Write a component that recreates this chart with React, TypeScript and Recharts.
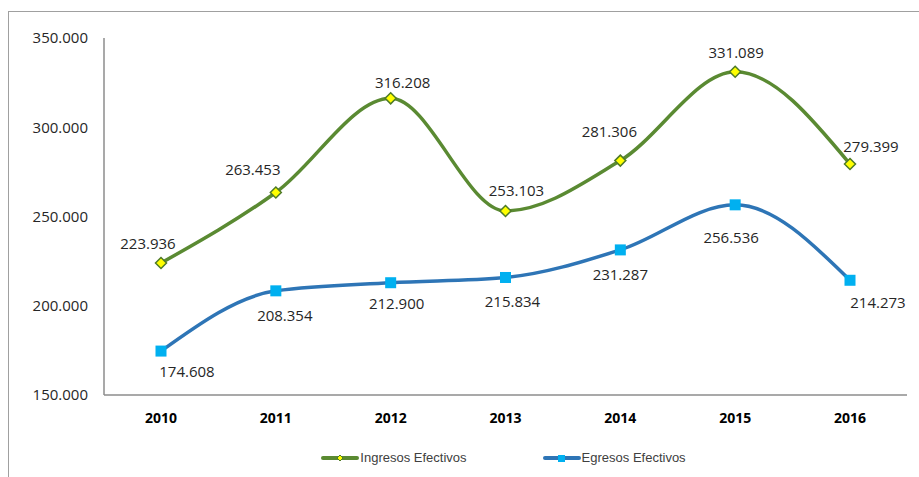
import React from 'react';
import { LineChart, Line, XAxis, YAxis, Legend, LabelList } from 'recharts';

const years = ['2010', '2011', '2012', '2013', '2014', '2015', '2016'];
const ingresos = [223936, 263453, 316208, 253103, 281306, 331089, 279399];
const egresos = [174608, 208354, 212900, 215834, 231287, 256536, 214273];
const yTicks = [150000, 200000, 250000, 300000, 350000];

// label nudges, roughly where Excel put them
const INGRESOS_DX = [-13, -23, 12, 11, -11, 1, 21];
const INGRESOS_DY = [-20, -23, -16, -21, -30, -20, -18];
const EGRESOS_DX = [26, 9, 6, 7, 0, -4, 28];
const EGRESOS_DY = [20, 24, 20, 24, 24, 32, 22];

const data = years.map((year, i) => ({ year, ingresos: ingresos[i], egresos: egresos[i] }));

const fmt = (v: number) => v.toLocaleString('de-DE');

const FONT = '"Open Sans", "Noto Sans", sans-serif';

const Diamond = (props: any) => {
  const { cx, cy } = props;
  if (cx == null || cy == null) return null;
  const r = 5.5;
  return (
    <path
      d={`M${cx},${cy - r}L${cx + r},${cy}L${cx},${cy + r}L${cx - r},${cy}Z`}
      fill="#ffff00"
      stroke="#4e7a28"
      strokeWidth={1.5}
    />
  );
};

const Square = (props: any) => {
  const { cx, cy } = props;
  if (cx == null || cy == null) return null;
  const s = 11;
  return <rect x={cx - s / 2} y={cy - s / 2} width={s} height={s} fill="#00b0f0" />;
};

const makeLabel = (dxs: number[], dys: number[]) => (props: any) => {
  const { x, y, value, index } = props;
  return (
    <text
      x={x + dxs[index]}
      y={y + dys[index]}
      textAnchor="middle"
      dominantBaseline="central"
      fontFamily={FONT}
      fontSize={15}
      fill="#262626"
    >
      {fmt(value)}
    </text>
  );
};

const LegendContent = () => (
  <div style={{ display: 'flex', justifyContent: 'center', gap: 76, fontFamily: '"Liberation Sans", Arial, sans-serif', fontSize: 13, color: '#404040', paddingLeft: 100, paddingTop: 19 }}>
    <span style={{ display: 'flex', alignItems: 'center' }}>
      <svg width={38} height={10}>
        <line x1={2} y1={5} x2={36} y2={5} stroke="#5a8a32" strokeWidth={4} strokeLinecap="round" />
        <path d="M19,2L22,5L19,8L16,5Z" fill="#ffff00" stroke="#4e7a28" strokeWidth={1} />
      </svg>
      <span style={{ marginLeft: 1 }}>Ingresos Efectivos</span>
    </span>
    <span style={{ display: 'flex', alignItems: 'center' }}>
      <svg width={38} height={10}>
        <line x1={2} y1={5} x2={36} y2={5} stroke="#2e75b6" strokeWidth={4} strokeLinecap="round" />
        <rect x={15} y={2} width={7} height={7} fill="#00b0f0" />
      </svg>
      <span style={{ marginLeft: 1 }}>Egresos Efectivos</span>
    </span>
  </div>
);

export default function App() {
  return (
    <div style={{ position: 'absolute', left: 0, top: 0, width: 919, height: 477, overflow: 'hidden', background: '#fff' }}>
      <div style={{ position: 'absolute', left: 8, top: 11, width: 1000, height: 600, borderLeft: '1px solid #a0a0a0', borderTop: '1px solid #a0a0a0' }} />
      <div style={{ position: 'absolute', left: 0, top: 0 }}>
        <LineChart width={919} height={477} data={data} margin={{ top: 38, right: 12, bottom: 10, left: 0 }}>
          <XAxis
            dataKey="year"
            padding={{ left: 57, right: 57 }}
            axisLine={{ stroke: '#8c8c8c', strokeWidth: 1.5 }}
            tickLine={false}
            tickSize={0}
            tickMargin={18}
            height={36}
            tick={{ fill: '#000', fontSize: 14, fontWeight: 700, fontFamily: FONT }}
          />
          <XAxis xAxisId="top" dataKey="year" orientation="top" height={0} tick={false} tickLine={false} axisLine={{ stroke: '#e4e4e4', strokeWidth: 1.5 }} />
          <YAxis
            domain={[150000, 350000]}
            ticks={yTicks}
            tickFormatter={fmt}
            width={104}
            axisLine={{ stroke: '#8c8c8c', strokeWidth: 1.5 }}
            tickLine={false}
            tickSize={0}
            tickMargin={16}
            tick={{ fill: '#262626', fontSize: 15, fontFamily: FONT }}
          />
          <YAxis yAxisId="right" orientation="right" width={0} tick={false} tickLine={false} axisLine={{ stroke: '#e4e4e4', strokeWidth: 1.5 }} />
          <Legend verticalAlign="bottom" height={36} content={<LegendContent />} />
          <Line
            type="monotone"
            dataKey="ingresos"
            name="Ingresos Efectivos"
            stroke="#5a8a32"
            strokeWidth={3.5}
            dot={<Diamond />}
            activeDot={false}
            isAnimationActive={false}
          >
            <LabelList dataKey="ingresos" content={makeLabel(INGRESOS_DX, INGRESOS_DY)} />
          </Line>
          <Line
            type="monotone"
            dataKey="egresos"
            name="Egresos Efectivos"
            stroke="#2e75b6"
            strokeWidth={3.5}
            dot={<Square />}
            activeDot={false}
            isAnimationActive={false}
          >
            <LabelList dataKey="egresos" content={makeLabel(EGRESOS_DX, EGRESOS_DY)} />
          </Line>
        </LineChart>
      </div>
    </div>
  );
}
